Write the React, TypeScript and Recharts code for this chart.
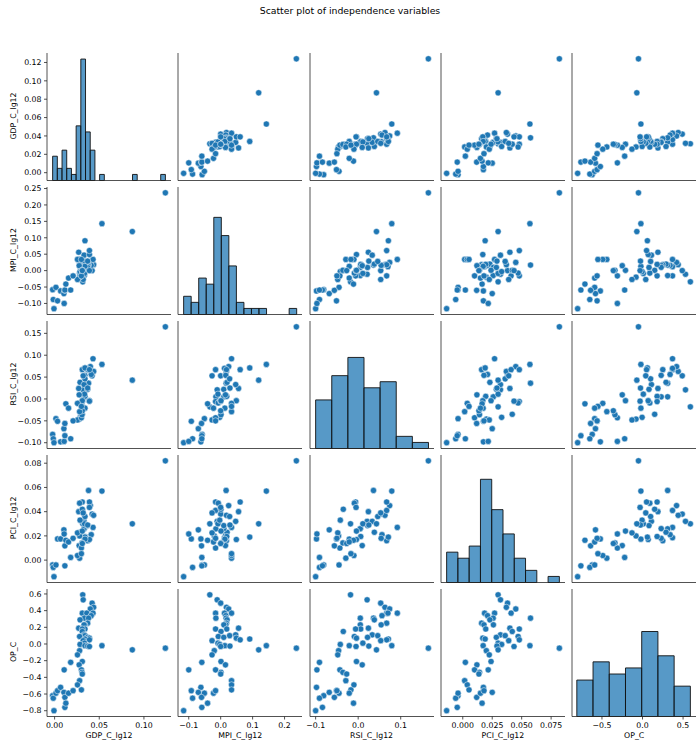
import React from "react";
import {
  ScatterChart,
  ComposedChart,
  Scatter,
  XAxis,
  YAxis,
  ReferenceArea
} from "recharts";

// one entry per observation (59 rows), same order in every array
const GDP = [
  0.0315, 0.032, 0.042, 0.0437, 0.04, 0.031, 0.043, 0.036, 0.041, 0.0333,
  0.038, 0.0285, 0.037, 0.0338, 0.033, 0.027, 0.034, 0.031, 0.031, 0.033,
  0.034, 0.028, 0.037, 0.039, 0.034, 0.039, 0.032, 0.0335, 0.0285, 0.034,
  0.037, 0.039, 0.028, 0.0256, 0.031, 0.0275, 0.03, 0.0307, 0.031, 0.028,
  0.0256, 0.03, -0.0022, -0.0015, -0.0007, 0.0015, 0.0033, 0.0067, 0.0104, 0.0107,
  0.0115, 0.0115, 0.0126, 0.0156, 0.018, 0.0207, 0.124, 0.087, 0.053
];
const MPI = [
  -0.034, -0.011, 0.0, 0.018, 0.025, -0.016, 0.034, 0.012, 0.016, -0.015,
  0.017, 0.02, 0.018, 0.016, 0.01, 0.056, 0.019, -0.016, 0.001, 0.047,
  0.028, -0.0075, 0.0096, 0.049, 0.091, 0.061, -0.027, -0.0086, -0.003, 0.013,
  0.029, 0.0, -0.02, -0.027, 0.001, 0.015, -0.016, 0.001, 0.0, 0.034,
  0.034, 0.034, -0.058, -0.088, -0.116, -0.051, -0.092, -0.062, -0.07, -0.1,
  -0.06, -0.059, -0.041, -0.0225, -0.059, -0.016, 0.237, 0.119, 0.143
];
const RSI = [
  -0.018, 0.021, 0.053, 0.063, 0.074, 0.067, 0.092, 0.07, 0.056, 0.005,
  0.036, 0.038, 0.067, 0.054, 0.005, 0.024, 0.006, -0.006, -0.035, 0.033,
  0.046, -0.009, 0.022, -0.004, 0.071, 0.067, 0.053, 0.011, -0.042, -0.021,
  0.025, -0.005, -0.046, -0.048, -0.004, 0.0095, -0.043, -0.036, -0.027, -0.029,
  -0.01, -0.017, -0.081, -0.091, -0.1, -0.045, -0.051, -0.098, -0.068, -0.097,
  -0.056, -0.084, -0.011, -0.021, -0.091, -0.05, 0.165, 0.043, 0.079
];
const PCI = [
  0.03, 0.032, 0.038, 0.037, 0.045, 0.041, 0.027, 0.0185, 0.021, 0.0258,
  0.0575, 0.023, 0.016, 0.018, 0.026, 0.04, 0.0195, 0.048, 0.042, 0.032,
  0.036, 0.047, 0.0285, 0.017, 0.019, 0.048, 0.039, 0.03, 0.033, 0.0173,
  0.029, 0.0435, 0.02, 0.0225, 0.024, 0.012, 0.01, 0.0142, 0.0137, 0.0016,
  0.0038, 0.0053, -0.004, -0.006, -0.0137, -0.004, 0.0175, 0.0175, 0.025, 0.0216,
  0.0118, -0.0047, 0.0164, 0.015, 0.0022, 0.018, 0.082, 0.03, 0.057
];
const OP = [
  0.59, 0.53, 0.49, 0.44, 0.42, 0.37, 0.37, 0.37, 0.34, 0.31,
  0.31, 0.29, 0.25, 0.23, 0.23, 0.19, 0.18, 0.18, 0.15, 0.11,
  0.1, 0.09, 0.08, 0.07, 0.06, 0.05, 0.04, 0.01, -0.005, -0.02,
  -0.025, -0.03, -0.08, -0.13, -0.21, -0.25, -0.31, -0.34, -0.36, -0.44,
  -0.49, -0.55, -0.62, -0.65, -0.8, -0.59, -0.56, -0.52, -0.58, -0.31,
  -0.64, -0.76, -0.71, -0.59, -0.22, -0.56, -0.05, -0.07, -0.02
];

const NAMES = ["GDP_C_lg12", "MPI_C_lg12", "RSI_C_lg12", "PCI_C_lg12", "OP_C"];

// histogram bins on the diagonal
const GDP_COUNTS = [4, 2, 5, 2, 1, 9, 20, 8, 5, 0, 1, 0, 0, 0, 0, 0, 0, 1, 0, 0, 0, 0, 0, 1];
const MPI_COUNTS = [3, 2, 6, 5, 16, 13, 8, 2, 1, 1, 1, 0, 0, 0, 1];
const RSI_COUNTS = [8, 12, 15, 10, 11, 2, 1];
const PCI_COUNTS = [5, 4, 6, 17, 12, 8, 4, 2, 0, 1];
const OP_COUNTS = [6, 9, 7, 8, 14, 10, 5];
const HIST_START = [-0.0022, -0.116, -0.1, -0.0137, -0.81];
const HIST_WIDTH = [0.00526, 0.0236, 0.0379, 0.00957, 0.2];

const Y_TICKS = [
  [0, 0.02, 0.04, 0.06, 0.08, 0.1, 0.12],
  [-0.1, -0.05, 0, 0.05, 0.1, 0.15, 0.2, 0.25],
  [-0.1, -0.05, 0, 0.05, 0.1, 0.15],
  [0, 0.02, 0.04, 0.06, 0.08],
  [-0.8, -0.6, -0.4, -0.2, 0, 0.2, 0.4, 0.6]
];
const X_TICKS = [
  [0, 0.05, 0.1],
  [-0.1, 0, 0.1, 0.2],
  [-0.1, 0, 0.1],
  [0, 0.025, 0.05, 0.075],
  [-0.5, 0, 0.5]
];
const Y_DEC = [2, 2, 2, 2, 1];
const X_DEC = [2, 1, 1, 3, 1];

const COL_X = [47, 178.3, 309.6, 440.9, 572.2];
const ROW_Y = [52.5, 186.5, 320.5, 454.5, 588.5];
const PW = 124;
const PH = 127.5;

const FONT = "DejaVu Sans, sans-serif";
const BLUE = "#1f77b4";
const AXIS = "#262626";

const SERIES = [GDP, MPI, RSI, PCI, OP];
const COUNTS = [GDP_COUNTS, MPI_COUNTS, RSI_COUNTS, PCI_COUNTS, OP_COUNTS];

const rows = GDP.map((_, k) => ({
  v0: GDP[k],
  v1: MPI[k],
  v2: RSI[k],
  v3: PCI[k],
  v4: OP[k]
}));

// matplotlib style limits: data range plus 5% on each side
const domains = SERIES.map((s) => {
  const lo = Math.min(...s);
  const hi = Math.max(...s);
  const pad = (hi - lo) * 0.05;
  return [lo - pad, hi + pad];
});

// the diagonal histograms share one count axis
const COUNT_TOP = Math.max(...COUNTS.map((c) => Math.max(...c))) * 1.05;

const fmt = (d: number) => (v: number) => {
  const s = Math.abs(v).toFixed(d);
  return v < -1e-9 ? "\u2212" + s : s;
};

const Dot = (props: any) => (
  <circle cx={props.cx} cy={props.cy} r={3.1} fill={BLUE} stroke="#fff" strokeWidth={0.5} />
);
const Nothing = () => <g />;

const tickStyle = { fontSize: 7.8, fill: "#000", fontFamily: FONT };
const lineStyle = { stroke: AXIS, strokeWidth: 0.8 };

function Panel({ i, j }: { i: number; j: number }) {
  const yw = j === 0 ? 44 : 4;
  const xh = i === 4 ? 20 : 4;
  const mt = 4;
  const mr = 4;
  const width = yw + PW + mr;
  const height = mt + PH + xh;
  const xKey = `v${j}`;
  const yKey = `v${i}`;
  const style: React.CSSProperties = {
    position: "absolute",
    left: COL_X[j] - yw,
    top: ROW_Y[i] - mt
  };

  const xAxis = (
    <XAxis
      type="number"
      dataKey={xKey}
      domain={domains[j]}
      allowDataOverflow
      ticks={X_TICKS[j]}
      interval={0}
      tickFormatter={fmt(X_DEC[j])}
      tick={i === 4 ? tickStyle : false}
      tickSize={3}
      tickMargin={2.5}
      height={xh}
      axisLine={lineStyle}
      tickLine={lineStyle}
    />
  );

  const yAxisProps = {
    type: "number" as const,
    dataKey: yKey,
    domain: domains[i],
    allowDataOverflow: true,
    ticks: Y_TICKS[i],
    interval: 0 as const,
    tickFormatter: fmt(Y_DEC[i]),
    tick: j === 0 ? tickStyle : false,
    tickSize: 3,
    tickMargin: 2.5,
    width: yw,
    axisLine: lineStyle,
    tickLine: lineStyle
  };

  if (i !== j) {
    return (
      <div style={style}>
        <ScatterChart width={width} height={height} margin={{ top: mt, right: mr, bottom: 0, left: 0 }}>
          {xAxis}
          <YAxis {...yAxisProps} />
          <Scatter data={rows} shape={Dot} isAnimationActive={false} />
        </ScatterChart>
      </div>
    );
  }

  const counts = COUNTS[i];
  const start = HIST_START[i];
  const w = HIST_WIDTH[i];
  const bins = counts.map((c, k) => ({
    [xKey]: start + (k + 0.5) * w,
    count: c,
    x1: start + k * w,
    x2: start + (k + 1) * w
  }));

  return (
    <div style={style}>
      <ComposedChart width={width} height={height} margin={{ top: mt, right: mr, bottom: 0, left: 0 }}>
        {xAxis}
        <YAxis yAxisId="v" {...yAxisProps} />
        <YAxis
          yAxisId="count"
          orientation="right"
          width={0}
          dataKey="count"
          type="number"
          hide
          domain={[0, COUNT_TOP]}
          allowDataOverflow
        />
        <Scatter yAxisId="v" data={rows} shape={Nothing} isAnimationActive={false} />
        <Scatter yAxisId="count" data={bins} shape={Nothing} isAnimationActive={false} />
        {bins
          .filter((b) => b.count > 0)
          .map((b, k) => (
            <ReferenceArea
              key={k}
              yAxisId="count"
              x1={b.x1}
              x2={b.x2}
              y1={0}
              y2={b.count}
              fill={BLUE}
              fillOpacity={0.75}
              stroke="#111"
              strokeWidth={0.9}
              ifOverflow="visible"
            />
          ))}
      </ComposedChart>
    </div>
  );
}

export default function App() {
  const cells: React.ReactNode[] = [];
  for (let i = 0; i < 5; i++) {
    for (let j = 0; j < 5; j++) {
      cells.push(<Panel key={`${i}-${j}`} i={i} j={j} />);
    }
  }
  return (
    <div
      style={{
        position: "absolute",
        left: 0,
        top: 0,
        width: 700,
        height: 746,
        background: "#fff",
        fontFamily: FONT,
        overflow: "hidden"
      }}
    >
      <div
        style={{
          position: "absolute",
          left: 0,
          width: 700,
          top: 5,
          textAlign: "center",
          fontSize: 9.3,
          color: "#000"
        }}
      >
        Scatter plot of independence variables
      </div>
      {cells}
      {NAMES.map((n, i) => (
        <div
          key={`y-${n}`}
          style={{
            position: "absolute",
            left: 14,
            top: ROW_Y[i] + PH / 2,
            transform: "translate(-50%, -50%) rotate(-90deg)",
            whiteSpace: "nowrap",
            fontSize: 7.8,
            lineHeight: 1,
            color: "#000"
          }}
        >
          {n}
        </div>
      ))}
      {NAMES.map((n, j) => (
        <div
          key={`x-${n}`}
          style={{
            position: "absolute",
            left: COL_X[j] + PW / 2,
            top: 732,
            transform: "translateX(-50%)",
            whiteSpace: "nowrap",
            fontSize: 7.8,
            lineHeight: 1,
            color: "#000"
          }}
        >
          {n}
        </div>
      ))}
    </div>
  );
}
